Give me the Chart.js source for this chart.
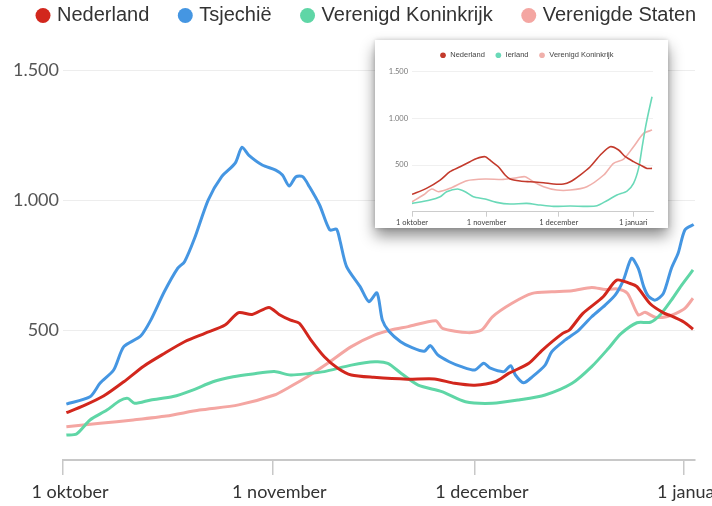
<!DOCTYPE html>
<html>
<head>
<meta charset="utf-8">
<script src="https://cdn.jsdelivr.net/npm/chart.js@4"></script>
<style>
  html, body { margin: 0; padding: 0; background: #fff; overflow: hidden; width: 712px; height: 506px; }
  #main { position: absolute; left: 0; top: 0; }
  #insetBox { position: absolute; left: 375px; top: 40px; width: 293px; height: 188px; background: #fff;
    box-shadow: 0 8px 14px rgba(0,0,0,0.45), 0 0 5px rgba(0,0,0,0.18); }
  #inset { position: absolute; left: 0; top: 0; }
</style>
</head>
<body>
<canvas id="main" width="740" height="506"></canvas>
<div id="insetBox"><canvas id="inset" width="293" height="188"></canvas></div>
<script>
// ---------- Main chart data (days since 1 October) ----------
const seriesNames = ['Nederland', 'Tsjechië', 'Verenigd Koninkrijk', 'Verenigde Staten'];

const nlDays = [0.5, 3, 6, 9, 12, 15, 18, 21, 24, 26, 28, 30.5, 32, 33.7, 35, 36.7, 38.7, 40.7, 42.7, 46, 51, 55, 58, 61, 64, 66, 69, 71, 74, 75, 77, 80, 82, 84, 85, 87, 89, 90, 92, 93.3];
const nlValues = [182, 208, 246, 301, 362, 410, 455, 487, 519, 567, 560, 587, 560, 538, 526, 462, 397, 353, 327, 318, 311, 312, 295, 288, 301, 333, 372, 423, 487, 500, 564, 628, 692, 679, 667, 600, 565, 555, 530, 503];

const czDays = [0.5, 4, 5.5, 7.5, 9, 11.5, 13, 15, 17, 18, 19.5, 21.5, 23.5, 25.5, 26.5, 27.5, 29.5, 31.5, 32.5, 33.5, 34.5, 35.5, 36.5, 38, 39.5, 40.5, 41, 42, 44, 45.3, 46.5, 47.3, 48.3, 50, 51.7, 53.5, 54.4, 55.5, 57.2, 59, 61, 62.3, 63.3, 65.3, 66.3, 67, 68.2, 69.5, 71.4, 72.4, 74.4, 76.4, 78.3, 80.3, 81.8, 83, 84.2, 85.2, 86, 86.7, 87.7, 88.9, 90.1, 91.1, 92.1, 93.4];
const czValues = [215, 243, 296, 346, 436, 477, 538, 647, 738, 763, 854, 1000, 1090, 1142, 1203, 1173, 1135, 1115, 1096, 1054, 1090, 1090, 1051, 981, 885, 888, 846, 744, 667, 609, 643, 538, 494, 455, 432, 418, 440, 404, 378, 359, 346, 372, 353, 340, 363, 327, 297, 320, 365, 417, 462, 500, 551, 596, 635, 692, 776, 737, 667, 630, 615, 640, 737, 795, 885, 906];

const vkDays = [0.5, 2, 4, 6.5, 8.4, 9.6, 10.6, 13, 16.3, 19.2, 22.2, 25.2, 28.1, 31.3, 33.7, 36.5, 38.7, 42.7, 46.2, 48.1, 50.1, 52.6, 56.1, 59.6, 63.6, 67.5, 71.4, 75.4, 78.3, 80.8, 82.6, 85, 87, 88.5, 90.1, 91.6, 93.3];
const vkValues = [96, 100, 154, 192, 228, 237, 218, 231, 244, 269, 301, 320, 331, 340, 327, 333, 340, 365, 378, 372, 333, 288, 263, 224, 218, 231, 250, 295, 359, 430, 485, 528, 530, 560, 615, 672, 731];

const usDays = [0.5, 5.5, 10.4, 15.3, 20.2, 26, 31.3, 33.5, 36.2, 39.2, 42.7, 46.2, 48.6, 51.1, 55.2, 56.2, 60, 62, 63.6, 66.5, 69.5, 72.4, 75.4, 78.3, 80.3, 82.1, 83.6, 85.2, 86.2, 87.7, 89.4, 90.8, 92.1, 93.3];
const usValues = [128, 141, 154, 169, 192, 212, 250, 280, 320, 372, 436, 481, 500, 513, 536, 506, 490, 500, 551, 603, 641, 647, 651, 664, 656, 658, 641, 558, 568, 549, 551, 564, 583, 622];

const xTickDays = [0, 31, 61, 92];
const xTickLabels = ['1 oktober', '1 november', '1 december', '1 januari'];
const yTickValues = [500, 1000, 1500];
const yTickLabels = ['500', '1.000', '1.500'];

// ---------- Inset chart data ----------
const insetNames = ['Nederland', 'Ierland', 'Verenigd Koninkrijk'];
const inNlDays = [0, 6, 11.7, 15.8, 20, 24.1, 26.9, 30.4, 33.2, 35.9, 38.7, 40.8, 45, 49.1, 54.7, 58.8, 63, 65.8, 69.9, 74.1, 78.3, 82.4, 85.9, 88.7, 92.1, 94.9, 97.7, 99.8];
const inNlValues = [186, 250, 339, 429, 482, 536, 571, 589, 536, 482, 393, 350, 329, 321, 311, 296, 296, 321, 393, 482, 607, 696, 661, 589, 536, 500, 464, 464];
const inIeDays = [0, 7.5, 11.7, 14.4, 18.9, 22.1, 25.5, 30.4, 35.2, 40.8, 47.7, 53.3, 58.8, 65.8, 72.7, 76.9, 81, 85.2, 89.4, 92.1, 94.2, 95.6, 97, 98.4, 99.8];
const inIeValues = [89, 125, 161, 214, 243, 214, 161, 136, 100, 82, 89, 71, 57, 61, 57, 64, 118, 179, 221, 304, 464, 679, 893, 1071, 1232];
const inUkDays = [0, 4.7, 8.2, 11, 15.8, 22.8, 30.4, 38, 43.6, 47, 50.5, 54.7, 60.2, 65.8, 72.7, 79.7, 83.8, 88, 92.1, 96.3, 99.8];
const inUkValues = [107, 179, 243, 214, 250, 332, 350, 346, 364, 375, 321, 268, 232, 232, 268, 393, 518, 564, 696, 839, 875];

// ---------- helpers ----------
const pts = (days, vals) => days.map((d, i) => ({ x: d, y: vals[i] }));
const FONT = 'Lato, "Liberation Sans", Arial, sans-serif';
const LEGEND_FONT = '"Liberation Sans", Arial, sans-serif';
Chart.defaults.font.family = FONT;

function legendLabels(chart) {
  return Chart.defaults.plugins.legend.labels.generateLabels(chart)
    .map(l => Object.assign({}, l, { lineWidth: 0, fillStyle: l.strokeStyle }));
}
function lineDs(label, data, color, width) {
  return { label, data, borderColor: color, backgroundColor: color, borderWidth: width,
           pointRadius: 0, tension: 0.25, fill: false };
}

// ---------- Main chart ----------
new Chart(document.getElementById('main'), {
  type: 'line',
  data: {
    datasets: [
      lineDs(seriesNames[0], pts(nlDays, nlValues), '#d2271d', 3),
      lineDs(seriesNames[1], pts(czDays, czValues), '#4596e2', 3),
      lineDs(seriesNames[2], pts(vkDays, vkValues), '#5fd6a6', 3),
      lineDs(seriesNames[3], pts(usDays, usValues), '#f4a6a2', 3)
    ]
  },
  options: {
    responsive: false,
    animation: false,
    devicePixelRatio: 1,
    layout: { padding: { top: -26.5, left: 7, right: 0, bottom: 0 } },
    plugins: {
      tooltip: { enabled: false },
      legend: {
        position: 'top',
        align: 'start',
        labels: {
          usePointStyle: true, pointStyle: 'circle', boxWidth: 8, boxHeight: 10.6,
          padding: 32, color: '#333', font: { size: 20, family: LEGEND_FONT },
          generateLabels: legendLabels
        }
      }
    },
    scales: {
      x: {
        type: 'linear', min: 0, max: 93.6,
        afterBuildTicks: s => { s.ticks = xTickDays.map(v => ({ value: v })); },
        afterFit: s => { s.height = 46; s.paddingRight = 45; },
        ticks: {
          color: '#333', font: { size: 18 }, padding: 6, labelOffset: 7, maxRotation: 0, autoSkip: false,
          callback: v => xTickLabels[xTickDays.indexOf(v)]
        },
        grid: { drawOnChartArea: false, drawTicks: true, tickLength: 15, color: '#c8c8c8', lineWidth: 1.5 },
        border: { display: true, color: '#c8c8c8', width: 2 }
      },
      y: {
        type: 'linear', min: 0, max: 1633,
        afterBuildTicks: s => { s.ticks = yTickValues.map(v => ({ value: v })); },
        afterFit: s => { s.width = 56; },
        ticks: {
          color: '#555', font: { size: 18 }, padding: 4,
          callback: v => yTickLabels[yTickValues.indexOf(v)]
        },
        grid: { drawTicks: false, color: '#ededed', lineWidth: 1 },
        border: { display: false }
      }
    }
  }
});

// ---------- Inset chart ----------
new Chart(document.getElementById('inset'), {
  type: 'line',
  data: {
    datasets: [
      lineDs(insetNames[0], pts(inNlDays, inNlValues), '#c33a2c', 1.6),
      lineDs(insetNames[1], pts(inIeDays, inIeValues), '#6ad9b8', 1.6),
      lineDs(insetNames[2], pts(inUkDays, inUkValues), '#f0b0ab', 1.6)
    ]
  },
  options: {
    responsive: false,
    animation: false,
    devicePixelRatio: 1,
    layout: { padding: { top: 1.5, left: 10, right: 0, bottom: 0 } },
    plugins: {
      tooltip: { enabled: false },
      legend: {
        position: 'top',
        align: 'center',
        labels: {
          usePointStyle: true, pointStyle: 'circle', boxWidth: 7, boxHeight: 4,
          padding: 10, color: '#444', font: { size: 7.5, family: LEGEND_FONT },
          generateLabels: legendLabels
        }
      }
    },
    scales: {
      x: {
        type: 'linear', min: 0, max: 100.2,
        afterBuildTicks: s => { s.ticks = xTickDays.map(v => ({ value: v })); },
        afterFit: s => { s.height = 16.3; s.paddingRight = 15; },
        ticks: {
          color: '#444', font: { size: 7.5 }, padding: 1, maxRotation: 0, autoSkip: false,
          callback: v => xTickLabels[xTickDays.indexOf(v)]
        },
        grid: { drawOnChartArea: false, drawTicks: true, tickLength: 5, color: '#ccc', lineWidth: 1 },
        border: { display: true, color: '#ccc', width: 1 }
      },
      y: {
        type: 'linear', min: 0, max: 1529,
        afterBuildTicks: s => { s.ticks = yTickValues.map(v => ({ value: v })); },
        afterFit: s => { s.width = 27; },
        ticks: {
          color: '#777', font: { size: 7.5 }, padding: 4,
          callback: v => yTickLabels[yTickValues.indexOf(v)]
        },
        grid: { drawTicks: false, color: '#f0f0f0', lineWidth: 1 },
        border: { display: false }
      }
    }
  }
});
</script>
</body>
</html>
